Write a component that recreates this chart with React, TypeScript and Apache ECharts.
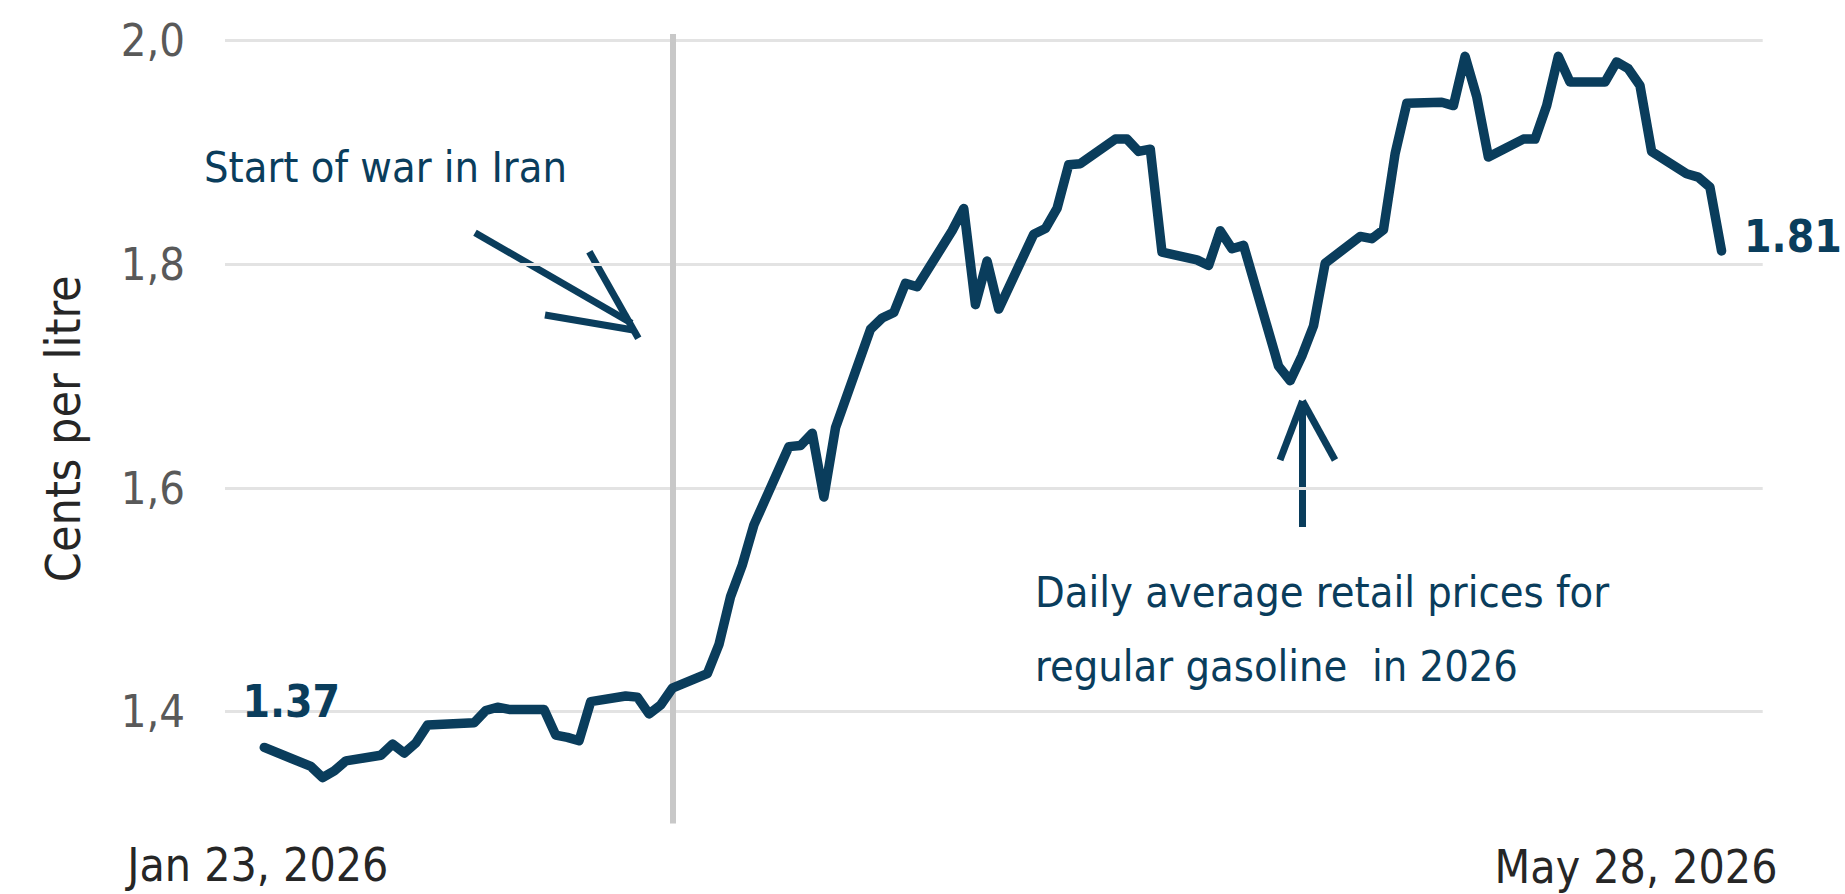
import React, { useEffect, useRef } from 'react';
import * as echarts from 'echarts';

// ---------- data ----------
const dates: string[] = [
  '2026-01-23', '2026-01-27', '2026-01-28', '2026-01-29', '2026-01-30',
  '2026-02-02', '2026-02-03', '2026-02-04', '2026-02-05', '2026-02-06',
  '2026-02-10', '2026-02-11', '2026-02-12', '2026-02-13', '2026-02-16',
  '2026-02-17', '2026-02-18', '2026-02-19', '2026-02-20', '2026-02-23',
  '2026-02-24', '2026-02-25', '2026-02-26', '2026-02-27', '2026-03-02',
  '2026-03-03', '2026-03-04', '2026-03-05', '2026-03-06', '2026-03-09',
  '2026-03-10', '2026-03-11', '2026-03-12', '2026-03-13', '2026-03-16',
  '2026-03-17', '2026-03-18', '2026-03-19', '2026-03-20', '2026-03-23',
  '2026-03-24', '2026-03-25', '2026-03-26', '2026-03-27', '2026-03-30',
  '2026-03-31', '2026-04-01', '2026-04-02', '2026-04-03', '2026-04-06',
  '2026-04-07', '2026-04-08', '2026-04-09', '2026-04-10', '2026-04-13',
  '2026-04-14', '2026-04-15', '2026-04-16', '2026-04-17', '2026-04-20',
  '2026-04-21', '2026-04-22', '2026-04-23', '2026-04-24', '2026-04-27',
  '2026-04-28', '2026-04-29', '2026-04-30', '2026-05-01', '2026-05-04',
  '2026-05-05', '2026-05-06', '2026-05-07', '2026-05-08', '2026-05-11',
  '2026-05-12', '2026-05-13', '2026-05-14', '2026-05-15', '2026-05-18',
  '2026-05-19', '2026-05-20', '2026-05-21', '2026-05-22', '2026-05-25',
  '2026-05-26', '2026-05-27', '2026-05-28',
];

const prices: number[] = [
  1.368, 1.351, 1.341, 1.347, 1.356,
  1.361, 1.371, 1.363, 1.372, 1.388,
  1.390, 1.401, 1.404, 1.402, 1.402,
  1.379, 1.377, 1.374, 1.409, 1.414,
  1.413, 1.398, 1.406, 1.421, 1.434,
  1.460, 1.503, 1.531, 1.567, 1.637,
  1.638, 1.649, 1.592, 1.654, 1.742,
  1.752, 1.757, 1.783, 1.780, 1.830,
  1.850, 1.764, 1.803, 1.760, 1.827,
  1.832, 1.850, 1.889, 1.890, 1.912,
  1.912, 1.901, 1.903, 1.811, 1.804,
  1.799, 1.830, 1.814, 1.817, 1.709,
  1.696, 1.718, 1.745, 1.801, 1.825,
  1.823, 1.831, 1.899, 1.944, 1.945,
  1.942, 1.986, 1.950, 1.896, 1.912,
  1.912, 1.942, 1.986, 1.963, 1.963,
  1.981, 1.975, 1.960, 1.901, 1.881,
  1.878, 1.869, 1.812,
];

const yTicks: number[] = [1.4, 1.6, 1.8, 2.0];
const yMin = 1.3;
const yTop = 2.006;
const xTickDates: string[] = ['2026-01-23', '2026-05-28'];
const xTickLabels: string[] = ['Jan 23, 2026', 'May 28, 2026'];
const warDate = '2026-02-27';
const warLabel = 'Start of war in Iran';
const seriesNote = 'Daily average retail prices for\nregular gasoline  in 2026';
const yTitle = 'Cents per litre';

// ---------- style ----------
const FONT = "'DejaVu Sans Condensed', 'DejaVu Sans', sans-serif";
const NAVY = '#0a3d5c';
const DAY = 86400000;
const toTs = (s: string) => {
  const [y, m, d] = s.split('-').map(Number);
  return Date.UTC(y, m - 1, d);
};

export default function App() {
  const ref = useRef<HTMLDivElement>(null);

  useEffect(() => {
    if (!ref.current) return;
    const chart = echarts.init(ref.current, null, { renderer: 'svg' });
    const last = prices.length - 1;
    const valueLabel = {
      show: true,
      formatter: (p: any) => Number(p.value[1]).toFixed(2),
      fontFamily: FONT,
      fontWeight: 'bold' as const,
      fontSize: 44,
      color: NAVY,
    };
    const data = dates.map((d, i) => {
      const item: any = { value: [toTs(d), prices[i]] };
      if (i === 0) item.label = { ...valueLabel, position: 'top', distance: 23, offset: [27, 0] };
      if (i === last) item.label = { ...valueLabel, position: 'right', distance: 22, offset: [0, -14] };
      return item;
    });
    const xTickTs = xTickDates.map(toTs);

    const arrowStyle = { stroke: NAVY, lineWidth: 7, lineCap: 'butt' as const };
    const arrowLines: number[][] = [
      [475, 232.7, 631.7, 323.3],
      [589.3, 251.7, 638.3, 338.3],
      [545, 315, 633.3, 330],
      [1302.5, 401, 1302.5, 527],
      [1280, 460, 1302.5, 401],
      [1335, 460, 1302.5, 401],
    ];

    chart.setOption({
      animation: false,
      backgroundColor: '#ffffff',
      grid: { left: 225, right: 82.3, top: 34, bottom: 70.5 },
      xAxis: {
        type: 'value',
        min: toTs(dates[0]) - 3.37 * DAY,
        max: toTs(dates[last]) + 3.53 * DAY,
        axisLine: { show: false },
        axisTick: { show: false },
        splitLine: { show: false },
        axisLabel: {
          show: true,
          customValues: xTickTs,
          hideOverlap: false,
          margin: 18,
          formatter: (v: number) => {
            const k = xTickTs.findIndex((t) => Math.abs(t - v) < DAY / 2);
            if (k < 0) return '';
            return k === 0 ? `{a|${xTickLabels[k]}}` : `{b|${xTickLabels[k]}}`;
          },
          rich: {
            a: { fontSize: 46, fontFamily: FONT, color: '#262626', padding: [0, 13, 0, 0] },
            b: { fontSize: 46, fontFamily: FONT, color: '#262626', padding: [2, 171, 0, 0] },
          },
        },
      },
      yAxis: {
        type: 'value',
        min: yMin,
        max: yTop,
        interval: 0.1,
        axisLine: { show: false },
        axisTick: { show: false },
        axisLabel: {
          margin: 40,
          fontSize: 45,
          fontFamily: FONT,
          color: '#595959',
          formatter: (v: number) => {
            const r = Math.round(v * 10) / 10;
            return yTicks.some((t) => Math.abs(t - v) < 1e-6) ? r.toFixed(1).replace('.', ',') : '';
          },
        },
        splitLine: {
          show: true,
          lineStyle: { color: ['rgba(0,0,0,0)', '#e3e3e3'], width: 3 },
        },
        name: yTitle,
        nameLocation: 'middle',
        nameRotate: 90,
        nameGap: 137.6,
        nameTextStyle: { fontSize: 48, fontFamily: FONT, color: '#262626' },
      },
      series: [
        {
          type: 'line',
          data,
          showSymbol: true,
          symbol: 'circle',
          symbolSize: 1,
          itemStyle: { color: 'rgba(0,0,0,0)', borderWidth: 0 },
          lineStyle: { color: NAVY, width: 9.5, cap: 'round', join: 'round' },
          z: 3,
          silent: true,
          emphasis: { disabled: true },
          markLine: {
            silent: true,
            symbol: 'none',
            z: 1,
            label: { show: false },
            lineStyle: { color: '#c8c8c8', width: 6, type: 'solid' },
            data: [[{ coord: [toTs(warDate), yMin] }, { coord: [toTs(warDate), yTop] }]],
          },
        },
      ],
      graphic: [
        {
          type: 'text',
          x: 204,
          y: 167,
          style: { text: warLabel, fill: NAVY, fontSize: 43, fontFamily: FONT, align: 'left', verticalAlign: 'middle' },
        },
        {
          type: 'text',
          x: 1035,
          y: 555,
          style: { text: seriesNote, fill: NAVY, fontSize: 43, fontFamily: FONT, lineHeight: 74, align: 'left', verticalAlign: 'top' },
        },
        ...arrowLines.map((l) => ({
          type: 'line',
          shape: { x1: l[0], y1: l[1], x2: l[2], y2: l[3] },
          style: arrowStyle,
        })),
      ],
    });

    return () => chart.dispose();
  }, []);

  return (
    <div
      ref={ref}
      style={{ position: 'absolute', left: 0, top: 0, width: 1845, height: 894 }}
    />
  );
}
